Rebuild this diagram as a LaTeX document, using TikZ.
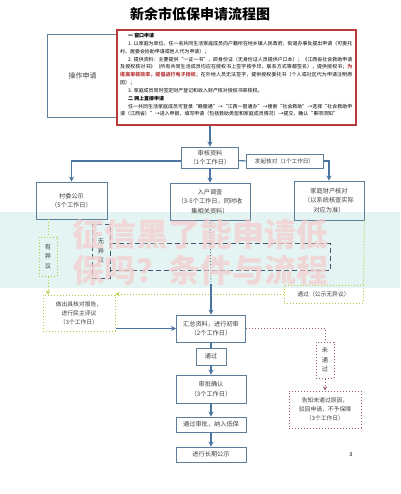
\documentclass[tikz,border=0pt]{standalone}
\usepackage{fontspec}
\setmainfont{Noto Sans CJK SC}
\XeTeXlinebreaklocale "zh"
\XeTeXlinebreakskip=0pt plus 0.6pt
\usetikzlibrary{arrows.meta}
\definecolor{boxc}{HTML}{5E7F9C}
\definecolor{arrc}{HTML}{4C74A0}
\definecolor{redc}{HTML}{B83A3A}
\definecolor{ylw}{HTML}{B5C93A}
\definecolor{mar}{HTML}{9A5A6A}
\definecolor{bandc}{HTML}{E4F4F3}
\definecolor{wmc}{HTML}{F6CDCD}
\definecolor{txt}{HTML}{404040}
\definecolor{dashc}{HTML}{3E5870}
\begin{document}
\begin{tikzpicture}[x=1pt,y=-1pt,
  box/.style={draw=boxc,line width=0.9pt,inner sep=0pt,align=center,text=txt,
    font=\fontsize{6.2}{9.5}\selectfont},
  ybox/.style={draw=ylw,line width=1pt,dotted,inner sep=0pt,align=center,text=txt,
    font=\fontsize{6.2}{9.5}\selectfont},
  mbox/.style={draw=mar,line width=1pt,dotted,inner sep=0pt,align=center,text=txt,
    font=\fontsize{6.2}{9.5}\selectfont},
  dbox/.style={draw=dashc,line width=1pt,dash pattern=on 5pt off 3pt,inner sep=0pt,align=center,text=txt,
    font=\fontsize{6.2}{9.5}\selectfont},
  arr/.style={draw=arrc,line width=1.2pt,-{Stealth[length=5pt,width=5pt]}},
  ln/.style={draw=arrc,line width=1.2pt},
  yarr/.style={draw=ylw,line width=1pt,dotted,-{Stealth[length=4pt,width=4pt]}},
  marr/.style={draw=mar,line width=1pt,dotted,-{Stealth[length=4pt,width=4pt]}},
  dln/.style={draw=dashc,line width=1pt,dash pattern=on 5pt off 3pt},
  dotln/.style={draw=dashc,line width=0.9pt,dotted},
  wm/.style={text=wmc,opacity=0.72,font=\fontsize{32}{34}\selectfont\bfseries}
]
\useasboundingbox (0,0) rectangle (400,494);
\fill[white] (0,0) rectangle (400,494);
\fill[bandc] (0,212) rectangle (400,288);

% title
\node (title) at (200,14) {\fontsize{14}{16}\selectfont\bfseries 新余市低保申请流程图};

% top boxes
\node[box,minimum width=71pt,minimum height=83pt,font=\fontsize{7}{9}\selectfont] (op) at (82.5,75.5) {操作申请};
\node[draw=redc,line width=1.4pt,fill=white,minimum width=239pt,minimum height=95pt] (red) at (236.5,77.5) {};
\node[anchor=north west,text width=232pt,inner sep=0pt,align=justify,text=black,
  font=\fontsize{4.95}{7.85}\selectfont] (redtext) at (120,33) {%
\hspace*{8pt}\textbf{一 窗口申请}\par
\hspace*{8pt}1. 以家庭为单位，任一名共同生活家庭成员向户籍所在地乡镇人民政府，街道办事处提出申请（可委托村、居委会协助申请或他人代为申请）；\par
\hspace*{8pt}2. 提供资料：主要提供“一证一书”，即身份证（无身份证人员提供户口本）；《江西省社会救助申请及授权核对书》（所有共同生活成员均应在授权书上签字按手印，联系方式等都签名），提供授权书；\textcolor{redc}{\textbf{为提高审核效率，提倡进行电子授权}}；在外地人员无法签字，提供授权委托书（个人或社区代为申请注明原因）；\par
\hspace*{8pt}3. 家庭成员同时签定财产登记和收入财产核对授权书审核权。\par
\hspace*{8pt}\textbf{二 网上直接申请}\par
\hspace*{8pt}任一共同生活家庭成员可登录“赣服通”→“江西一窗通办”→搜索“社会救助”→选择“社会救助申请（江西省）”→进入申报，填写申请（包括救助类型和家庭成员情况）→提交，确认“事项须知”};

% flow boxes
\node[box,minimum width=57pt,minimum height=21pt] (shenhe) at (210,157.5) {审核资料\\（1个工作日）};
\node[box,minimum width=77pt,minimum height=14pt,font=\fontsize{5.6}{7}\selectfont] (faqi) at (284.5,161) {发起核对（1个工作日）};
\node[box,minimum width=70pt,minimum height=39pt] (caichan) at (329,200.5) {家庭财产核对\\（以系统核查实际\\对应为准）};
\node[box,minimum width=80pt,minimum height=37pt] (ruhu) at (210,201.5) {入户调查\\（3-5个工作日，同时收\\集相关资料）};
\node[box,minimum width=71pt,minimum height=37pt] (cunwei) at (71.5,200.5) {村委公示\\（5个工作日）};
\node[ybox,minimum width=18pt,minimum height=39pt] (youyiyi) at (48,256.5) {有\\异\\议};
\node[dbox,minimum width=18pt,minimum height=54pt] (wuyiyi) at (101,251) {无\\异\\议};
\node[ybox,minimum width=79pt,minimum height=18pt,font=\fontsize{5.8}{7}\selectfont] (tg1) at (323.5,294) {通过（公示无异议）};
\node[ybox,minimum width=72pt,minimum height=36pt,font=\fontsize{5.8}{9}\selectfont] (report) at (79,313) {做出具核对报告，\\进行民主评议\\（3个工作日）};
\node[box,minimum width=69pt,minimum height=27pt] (huizong) at (211,328.5) {汇总资料，进行初审\\（2个工作日）};
\node[mbox,minimum width=18pt,minimum height=36pt] (wtg) at (325,360) {未\\通\\过};
\node[mbox,minimum width=72pt,minimum height=37pt,font=\fontsize{5.8}{9}\selectfont] (gaozhi) at (325,409.5) {告知未通过原因，\\驳回申请，不予保障\\（3个工作日）};
\node[box,minimum width=30pt,minimum height=17pt] (tg2) at (211,356.5) {通过};
\node[box,minimum width=70pt,minimum height=28pt] (shenpi) at (211,389) {审批确认\\（3个工作日）};
\node[box,minimum width=70pt,minimum height=15pt] (nading) at (211,424.5) {通过审批，纳入低保};
\node[box,minimum width=70pt,minimum height=15pt] (gongshi) at (211,454.5) {进行长期公示};
\node[font=\fontsize{5.5}{6}\selectfont] (pg) at (351,455) {3};

% connectors
\draw[arr] (shenhe.north |- red.south) -- (shenhe.north);
\draw[ln] ([yshift=-3pt]shenhe.east) -- (faqi.west);
\draw[arr] (faqi.east) -| (caichan.north);
\draw[arr] (shenhe.south) -- (ruhu.north);
\draw[arr] ([yshift=-3.5pt]shenhe.west) -| (cunwei.north);
\draw[draw=ylw,line width=1pt,dotted] (youyiyi.north |- cunwei.south) -- (youyiyi.north);
\draw[yarr] (youyiyi.south) -- (youyiyi.south |- report.north);
\draw[draw=ylw,line width=1pt,dotted] (caichan.south east) -- (tg1.north east);
\draw[yarr] (tg1.west) -- (tg1.west -| report.east);
\draw[arr] (huizong.west -| report.east) -- (huizong.west);
\coordinate (mid) at (211,284);
\draw[dotln] (ruhu.south) -- (mid);
\draw[arr] (mid) -- (huizong.north);
\draw[marr,-] (huizong.east) -| (wtg.north);
\draw[marr] (wtg.south) -- (gaozhi.north);
\draw[ln] (huizong.south) -- (tg2.north);
\draw[arr] (tg2.south) -- (shenpi.north);
\draw[arr] (shenpi.south) -- (nading.north);
\draw[arr] (nading.south) -- (gongshi.north);
% dashed loop of 无异议
\coordinate (d1) at (330,243);
\coordinate (d2) at (330,270);
\draw[dln] (wuyiyi.east |- d1) -- (d1) -- (d2) -- (wuyiyi.east |- d2);

% watermark
\node[wm] (wm1) at (200,234) {征信黑了能申请低};
\node[wm] (wm2) at (200,270) {保吗？条件与流程};
\end{tikzpicture}
\end{document}
